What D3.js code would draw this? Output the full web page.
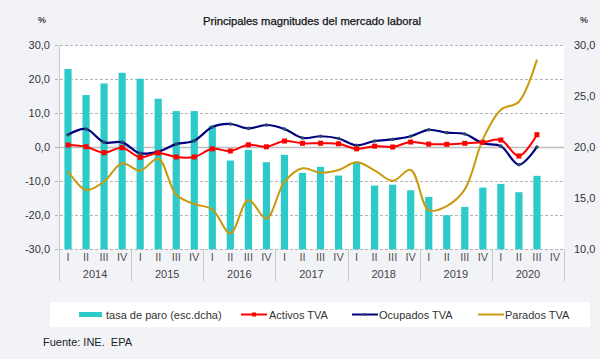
<!DOCTYPE html>
<html>
<head>
<meta charset="utf-8">
<script src="https://cdn.jsdelivr.net/npm/d3@7"></script>
<style>
  html, body { margin: 0; padding: 0; background: #f2f3f7; }
  svg { display: block; font-family: "Liberation Sans", Arial, sans-serif; }
</style>
</head>
<body>
<svg id="chart" width="600" height="359"></svg>
<script>
const years = ["2014", "2015", "2016", "2017", "2018", "2019", "2020"];
const quarterLabels = ["I", "II", "III", "IV"];
const tasaParo = [27.65, 25.1, 26.24, 27.28, 26.7, 24.74, 23.53, 23.53, 22.09, 18.69, 19.74, 18.53,
  19.25, 17.48, 18.07, 17.22, 18.56, 16.24, 16.33, 15.78, 15.13, 13.33, 14.15, 16.04, 16.4, 15.59, 17.19, null];
const activos = [0.63, 0.13, -1.63, -0.16, -2.99, -1.7, -2.9, -2.9, -0.5, -1.13, 0.7, 0.1,
  1.8, 1.13, 1.15, 1.0, -0.5, 0.3, 0.05, 1.5, 0.9, 0.84, 1.13, 1.42, 2.1, -2.6, 3.66, null];
const ocupados = [3.66, 5.33, 1.41, 1.41, -1.8, -1.3, 0.9, 1.9, 5.9, 6.8, 5.5, 6.5,
  5.33, 2.7, 3.2, 2.55, 0.54, 1.8, 2.3, 3.2, 5.1, 4.24, 3.86, 1.13, 0.3, -5.15, 0.05, null];
const parados = [-7.0, -12.6, -10.1, -4.75, -6.9, -3.4, -14.0, -16.7, -18.3, -25.3, -15.5, -21.0,
  -10.2, -6.2, -7.5, -6.7, -4.45, -6.8, -9.9, -6.7, -18.5, -17.3, -12.4, 2.3, 11.0, 13.35, 25.7, null];
const leftTicks = [-30, -20, -10, 0, 10, 20, 30];
const rightTicks = [10, 15, 20, 25, 30];
const title = "Principales magnitudes del mercado laboral";
const legendLabels = ["tasa de paro (esc.dcha)", "Activos TVA", "Ocupados TVA", "Parados TVA"];
const source = "Fuente: INE.\u00a0\u00a0EPA";

const colors = { bar: "#2ecaca", activos: "#ff0000", ocupados: "#000080", parados: "#c99a0e", marker: "#2b4a66" };

const svg = d3.select("#chart");
const L = 59, R = 564, T = 45, B = 249.3;

const idx = d3.range(years.length * 4);
const x = d3.scaleBand().domain(idx).range([L, R]).padding(0);
const yL = d3.scaleLinear().domain([-30, 30]).range([B, T]);
const yR = d3.scaleLinear().domain([10, 30]).range([B, T]);

// plot background
svg.append("rect").attr("x", L).attr("y", T).attr("width", R - L).attr("height", B - T).attr("fill", "#ffffff");

// gridlines
svg.append("g").selectAll("line").data(leftTicks).join("line")
  .attr("x1", L - 4).attr("x2", R)
  .attr("y1", d => Math.round(yL(d)) + 0.5).attr("y2", d => Math.round(yL(d)) + 0.5)
  .attr("stroke", d => d === 0 ? "#bdbdbd" : "#b4b4b4")
  .attr("stroke-width", d => d === 0 ? 1.3 : 1)
  .attr("stroke-dasharray", d => d === 0 ? null : "3,2");

// left axis line
svg.append("line").attr("x1", L + 0.5).attr("x2", L + 0.5).attr("y1", T).attr("y2", 281).attr("stroke", "#c8c8c8");

// year separators
svg.append("g").selectAll("line").data(d3.range(1, years.length + 1)).join("line")
  .attr("x1", d => Math.round(x(d * 4 - 1) + x.bandwidth()) + 0.5)
  .attr("x2", d => Math.round(x(d * 4 - 1) + x.bandwidth()) + 0.5)
  .attr("y1", B).attr("y2", 281).attr("stroke", "#c8c8c8");

// left tick labels
svg.append("g").selectAll("text").data(leftTicks).join("text")
  .attr("x", 50).attr("y", d => yL(d) + 4)
  .attr("text-anchor", "end").attr("font-size", 11).attr("fill", "#333")
  .text(d => d3.format(".1f")(d).replace(".", ",").replace("−", "-"));

// right tick labels
svg.append("g").selectAll("text").data(rightTicks).join("text")
  .attr("x", 574).attr("y", d => yR(d) + 4)
  .attr("text-anchor", "start").attr("font-size", 11).attr("fill", "#333")
  .text(d => d3.format(".1f")(d).replace(".", ","));

// % labels
svg.append("text").attr("x", 42).attr("y", 23).attr("text-anchor", "middle").attr("font-size", 9).attr("font-weight", "bold").attr("fill", "#444").text("%");
svg.append("text").attr("x", 584).attr("y", 23).attr("text-anchor", "middle").attr("font-size", 9).attr("font-weight", "bold").attr("fill", "#444").text("%");

// title
svg.append("text").attr("x", 203).attr("y", 25).attr("font-size", 11.5).attr("fill", "#111")
  .attr("stroke", "#111").attr("stroke-width", 0.25)
  .attr("textLength", 218).attr("lengthAdjust", "spacingAndGlyphs").text(title);

// bars
svg.append("g").selectAll("rect").data(idx.filter(i => tasaParo[i] != null)).join("rect")
  .attr("x", i => x(i) + x.bandwidth() / 2 - 3.6)
  .attr("width", 7.2)
  .attr("y", i => yR(tasaParo[i]))
  .attr("height", i => B - yR(tasaParo[i]))
  .attr("fill", colors.bar);

// lines
const cx = i => x(i) + x.bandwidth() / 2;
function drawLine(arr, color, w) {
  const line = d3.line().defined(i => arr[i] != null).x(cx).y(i => yL(arr[i])).curve(d3.curveCatmullRom.alpha(0.5));
  svg.append("path").datum(idx).attr("d", line).attr("fill", "none").attr("stroke", color).attr("stroke-width", w);
}
drawLine(parados, colors.parados, 2);
drawLine(ocupados, colors.ocupados, 2.2);
drawLine(activos, colors.activos, 2);

// markers
svg.append("g").selectAll("circle").data(idx.filter(i => ocupados[i] != null)).join("circle")
  .attr("cx", cx).attr("cy", i => yL(ocupados[i])).attr("r", 1.8).attr("fill", colors.marker);
svg.append("g").selectAll("rect").data(idx.filter(i => activos[i] != null)).join("rect")
  .attr("x", i => cx(i) - 2.5).attr("y", i => yL(activos[i]) - 2.5).attr("width", 5).attr("height", 5).attr("fill", colors.activos);

// quarter labels
svg.append("g").selectAll("text").data(idx).join("text")
  .attr("x", cx).attr("y", 261)
  .attr("text-anchor", "middle").attr("font-size", 11).attr("fill", "#555")
  .text(i => quarterLabels[i % 4]);

// year labels
svg.append("g").selectAll("text").data(years).join("text")
  .attr("x", (d, k) => (x(k * 4) + x(k * 4 + 3) + x.bandwidth()) / 2).attr("y", 278)
  .attr("text-anchor", "middle").attr("font-size", 11).attr("fill", "#444")
  .text(d => d);

// legend
svg.append("rect").attr("x", 50).attr("y", 302).attr("width", 540).attr("height", 25).attr("fill", "#ffffff");
const lg = svg.append("g");
const ly = 314.5;
lg.append("rect").attr("x", 79).attr("y", ly - 2.5).attr("width", 23).attr("height", 5).attr("fill", colors.bar);
lg.append("text").attr("x", 106).attr("y", ly + 4).attr("font-size", 11).attr("fill", "#333").text(legendLabels[0]);
lg.append("line").attr("x1", 241).attr("x2", 267).attr("y1", ly).attr("y2", ly).attr("stroke", colors.activos).attr("stroke-width", 2);
lg.append("rect").attr("x", 252).attr("y", ly - 2).attr("width", 4).attr("height", 4).attr("fill", colors.activos);
lg.append("text").attr("x", 269).attr("y", ly + 4).attr("font-size", 11).attr("fill", "#333").text(legendLabels[1]);
lg.append("line").attr("x1", 352).attr("x2", 378).attr("y1", ly).attr("y2", ly).attr("stroke", colors.ocupados).attr("stroke-width", 2);
lg.append("circle").attr("cx", 365).attr("cy", ly).attr("r", 1.5).attr("fill", colors.marker);
lg.append("text").attr("x", 379).attr("y", ly + 4).attr("font-size", 11).attr("fill", "#333").text(legendLabels[2]);
lg.append("line").attr("x1", 478).attr("x2", 504).attr("y1", ly).attr("y2", ly).attr("stroke", colors.parados).attr("stroke-width", 2);
lg.append("text").attr("x", 505).attr("y", ly + 4).attr("font-size", 11).attr("fill", "#333").text(legendLabels[3]);

// source
svg.append("text").attr("x", 43).attr("y", 346).attr("font-size", 11).attr("fill", "#222").text(source);
</script>
</body>
</html>
